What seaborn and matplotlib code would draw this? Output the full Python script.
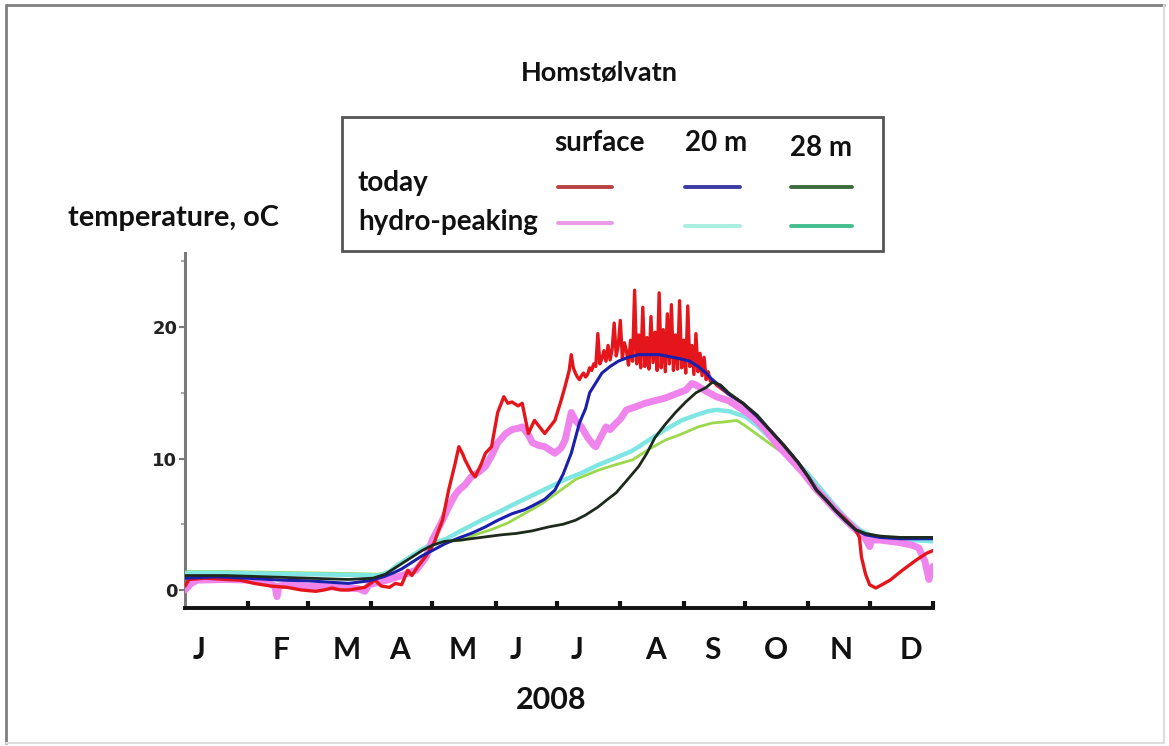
import numpy as np
import pandas as pd
import matplotlib
matplotlib.use("Agg")
import matplotlib.pyplot as plt
import seaborn as sns
from matplotlib.lines import Line2D
from matplotlib.patches import Rectangle

# ---------------- data (day of year 2008, temperature degC) ----------------
surf_today_day = [0, 2, 10, 20, 27, 34, 42, 50, 57, 64, 68, 72, 76, 80, 84, 88, 93, 96, 100, 103,
                  106, 109, 111, 114, 118, 122, 124, 126, 129, 132, 134, 136, 137, 140, 142, 145,
                  147, 150, 153, 156, 158, 160, 163, 165, 168, 171, 174, 176, 179, 181, 184, 186,
                  188, 189, 190, 191, 192, 193, 194, 195, 196, 197, 198, 199, 200, 201, 202, 203,
                  204, 205, 206, 207, 208, 209, 210, 211, 212, 213, 214, 215, 216, 217, 218, 219,
                  220, 221, 222, 223, 224, 225, 226, 227, 228, 229, 230, 231, 232, 233, 234, 235,
                  236, 237, 238, 239, 240, 241, 242, 243, 244, 245, 246, 247, 248, 249, 250, 251,
                  252, 253, 254, 255, 256, 257, 258, 260, 266, 273, 280, 286, 293, 300, 305, 309,
                  314, 318, 323, 328, 330, 331, 333, 335, 338, 341, 345, 351, 358, 363, 366]
surf_today_t = [0.3, 0.8, 0.9, 0.8, 0.75, 0.5, 0.3, 0.2, 0.0, -0.1, 0.0, 0.15, 0.0, 0.0, 0.1, 0.2, 0.75, 0.3, 0.2, 0.5,
                0.4, 1.5, 1.1, 1.8, 2.6, 3.6, 4.5, 5.3, 7.6, 9.5, 10.9, 10.3, 9.9, 9.0, 8.6, 9.6,
                10.4, 10.9, 13.5, 14.7, 14.2, 14.3, 14.0, 14.2, 11.9, 12.9, 12.3, 11.9, 12.5, 12.9, 14.4, 15.5,
                16.7, 17.9, 16.9, 16.5, 16.2, 16.0, 16.3, 16.5, 16.2, 16.4, 16.9, 16.7, 17.2, 17.0, 19.5, 17.2,
                17.6, 18.2, 17.4, 18.6, 17.5, 18.3, 20.3, 17.8, 18.6, 20.5, 17.6, 18.8, 18.2, 17.1, 19.0, 17.4,
                22.8, 17.2, 19.4, 16.9, 21.5, 17.0, 19.2, 16.8, 20.8, 17.3, 19.6, 16.7, 22.6, 16.9, 19.8, 16.6,
                21.0, 17.2, 21.7, 16.7, 19.4, 16.8, 22.0, 16.9, 19.0, 16.5, 21.6, 17.0, 18.6, 16.4, 19.5, 16.6,
                18.0, 16.3, 17.7, 16.0, 16.6, 15.9, 16.0, 15.6, 14.9, 14.2, 13.2, 12.2, 11.0, 9.7, 8.6, 7.6,
                6.8, 6.1, 5.4, 4.6, 4.0, 2.5, 1.2, 0.4, 0.15, 0.4, 0.75, 1.5, 2.3, 2.8, 3.0]

m20_today_day = [0, 15, 30, 47, 60, 70, 80, 90, 97, 102, 106, 112, 116, 121, 127, 133, 140, 147, 153,
                 160, 166, 170, 176, 181, 185, 189, 193, 196, 198, 202, 204, 208, 212, 217, 222, 232,
                 242, 247, 251, 255, 258, 262, 266, 273, 280, 286, 293, 300, 305, 309, 314, 318, 323,
                 328, 333, 340, 350, 366]
m20_today_t = [0.9, 1.0, 0.9, 0.75, 0.7, 0.6, 0.5, 0.7, 1.0, 1.3, 1.6, 2.2, 2.6, 3.0, 3.5, 3.9, 4.3, 4.8, 5.3,
               5.8, 6.1, 6.4, 6.9, 7.6, 8.8, 10.4, 12.7, 13.8, 15.0, 16.0, 16.5, 17.0, 17.4, 17.7, 17.9, 17.9,
               17.6, 17.4, 17.0, 16.5, 16.0, 15.5, 14.9, 14.2, 13.2, 12.2, 11.0, 9.7, 8.6, 7.6, 6.8, 6.1, 5.3,
               4.6, 4.2, 4.0, 3.9, 3.9]

m28_today_day = [0, 20, 40, 60, 80, 92, 98, 104, 110, 116, 121, 127, 135, 145, 155, 162, 170, 178, 185,
                 191, 196, 202, 206, 211, 216, 222, 226, 230, 235, 240, 245, 250, 255, 258, 262, 266,
                 273, 280, 286, 293, 300, 305, 309, 314, 318, 323, 328, 333, 340, 350, 366]
m28_today_t = [1.1, 1.1, 1.0, 0.9, 0.8, 0.9, 1.2, 1.8, 2.4, 3.0, 3.4, 3.7, 3.8, 4.0, 4.2, 4.3, 4.5, 4.8, 5.0,
               5.3, 5.7, 6.3, 6.8, 7.4, 8.3, 9.4, 10.4, 11.6, 12.6, 13.5, 14.3, 15.0, 15.4, 15.8, 15.6, 15.0,
               14.2, 13.3, 12.2, 11.0, 9.7, 8.6, 7.6, 6.8, 6.1, 5.3, 4.6, 4.3, 4.1, 4.0, 4.0]

surf_hydro_day = [0, 3, 6, 20, 31, 38, 41, 44, 45, 46, 50, 60, 70, 80, 85, 88, 90, 95, 100, 106, 113,
                  118, 121, 125, 129, 132, 134, 137, 140, 144, 147, 150, 153, 157, 160, 163, 165, 168,
                  170, 173, 176, 179, 181, 184, 186, 188, 189, 191, 194, 197, 200, 201, 203, 206, 208,
                  211, 213, 216, 220, 225, 230, 235, 240, 245, 248, 250, 254, 260, 266, 273, 279, 284,
                  290, 296, 302, 308, 314, 320, 326, 331, 333, 335, 336, 340, 345, 350, 356, 359, 362,
                  364, 365, 366]
surf_hydro_t = [0.0, 0.5, 0.75, 0.8, 0.75, 0.6, 0.5, 0.3, -0.5, 0.3, 0.4, 0.3, 0.25, 0.15, 0.1, -0.1, 0.4,
                0.6, 0.8, 1.1, 1.5, 2.5, 3.8, 5.0, 6.3, 7.2, 7.6, 8.0, 8.6, 9.0, 9.4, 10.2, 11.2, 11.9,
                12.2, 12.3, 12.4, 11.8, 11.2, 11.0, 10.9, 10.6, 10.4, 10.8, 11.4, 12.8, 13.5, 12.9, 12.4,
                11.6, 11.0, 10.9, 11.5, 12.4, 12.2, 12.7, 13.0, 13.7, 13.9, 14.2, 14.4, 14.6, 14.9, 15.2,
                15.7, 15.6, 15.2, 14.7, 14.4, 13.7, 13.0, 12.2, 11.0, 10.0, 9.0, 7.8, 6.8, 5.8, 4.9, 4.2,
                3.9, 3.3, 3.8, 3.8, 3.7, 3.6, 3.4, 3.2, 2.2, 0.8, 1.5, 1.8]

m20_hydro_day = [0, 20, 40, 60, 80, 95, 100, 104, 110, 116, 122, 128, 135, 145, 153, 162, 170, 178, 186,
                 194, 202, 210, 219, 227, 235, 243, 250, 256, 260, 266, 274, 280, 286, 293, 300, 305,
                 311, 318, 324, 330, 336, 345, 355, 366]
m20_hydro_t = [1.3, 1.3, 1.25, 1.2, 1.15, 1.1, 1.4, 1.9, 2.5, 3.1, 3.6, 3.9, 4.5, 5.3, 5.9, 6.6, 7.2, 7.8,
               8.4, 8.9, 9.5, 10.0, 10.6, 11.4, 12.2, 12.9, 13.3, 13.6, 13.7, 13.6, 13.2, 12.5, 11.6, 10.6,
               9.6, 8.8, 7.7, 6.4, 5.4, 4.6, 4.1, 3.9, 3.8, 3.7]

m28_hydro_day = [0, 20, 40, 60, 80, 95, 100, 104, 108, 113, 118, 124, 130, 136, 142, 150, 158, 166, 175,
                 183, 191, 202, 210, 219, 227, 235, 242, 251, 258, 265, 270, 274, 282, 290, 296, 305,
                 312, 318, 324, 330, 336, 345, 355, 366]
m28_hydro_t = [1.4, 1.4, 1.35, 1.3, 1.25, 1.2, 1.4, 1.9, 2.3, 2.8, 3.3, 3.7, 3.7, 3.8, 4.2, 4.6, 5.1, 5.8,
               6.6, 7.5, 8.4, 9.1, 9.5, 9.9, 10.7, 11.4, 11.8, 12.4, 12.7, 12.8, 12.9, 12.5, 11.6, 10.7,
               10.1, 8.9, 7.5, 6.3, 5.3, 4.5, 4.0, 3.9, 3.8, 3.8]

month_letters = ["J", "F", "M", "A", "M", "J", "J", "A", "S", "O", "N", "D"]
month_letter_day = [7, 47, 79, 105, 136, 162, 192, 230, 258, 289, 321, 355]
month_end_day = [31, 60, 91, 121, 152, 182, 213, 244, 274, 305, 335, 366]
y_major = [0, 10, 20]
y_minor = [5, 15, 25]

legend_cols = ["surface", "20 m", "28 m"]
legend_rows = ["today", "hydro-peaking"]

# ---------------- figure ----------------
W, H = 1169, 746
sns.set_style("white")
plt.rcParams["font.family"] = ["DejaVu Sans"]

fig = plt.figure(figsize=(W / 100, H / 100), dpi=100)
fig.patch.set_facecolor("white")


def fx(px):
    return px / W


def fy(py):
    return 1 - py / H


ax = fig.add_axes([fx(185), fy(608.4), 748 / W, 355 / H])
ax.set_facecolor("white")

series = [
    ("28 m hydro", m28_hydro_day, m28_hydro_t, "#9bd84c", 2.0, 2),
    ("20 m hydro", m20_hydro_day, m20_hydro_t, "#7fe6e3", 3.2, 3),
    ("surface hydro", surf_hydro_day, surf_hydro_t, "#ee84ec", 5.0, 4),
    ("surface today", surf_today_day, surf_today_t, "#e4161b", 2.4, 5),
    ("20 m today", m20_today_day, m20_today_t, "#1b1fae", 2.2, 6),
    ("28 m today", m28_today_day, m28_today_t, "#1d2b1d", 2.0, 7),
]
for name, d, t, c, lw, z in series:
    df = pd.DataFrame({"day": d, "temp": t})
    sns.lineplot(data=df, x="day", y="temp", ax=ax, color=c, linewidth=lw,
                 estimator=None, sort=False, zorder=z, legend=False)

ax.set_xlim(0, 366)
ax.set_ylim(-1.4, 25.6)
ax.set_xlabel("")
ax.set_ylabel("")

for s in ["top", "right"]:
    ax.spines[s].set_visible(False)
ax.spines["left"].set_color("#7a7a7a")
ax.spines["left"].set_linewidth(2.2)
ax.spines["bottom"].set_color("#111111")
ax.spines["bottom"].set_linewidth(2.8)

# x ticks: month ends (major, inward), letters (minor, no tick)
ax.set_xticks(month_end_day)
ax.set_xticklabels([""] * len(month_end_day))
ax.tick_params(axis="x", which="major", direction="in", length=5, width=3, color="#111111", bottom=True)
ax.set_xticks(month_letter_day, labels=month_letters, minor=True)
ax.tick_params(axis="x", which="minor", length=0, pad=20, labelsize=21.5, bottom=True)
for lbl in ax.get_xticklabels(minor=True):
    lbl.set_fontfamily("Lato")
    lbl.set_fontweight("bold")
    lbl.set_color("#111111")

ax.set_yticks(y_major)
ax.set_yticklabels([str(v) for v in y_major])
ax.set_yticks(y_minor, minor=True)
ax.tick_params(axis="y", which="major", direction="out", length=4, width=1.5, color="#7a7a7a",
               labelsize=13, pad=1.5, left=True)
ax.tick_params(axis="y", which="minor", direction="out", length=3, width=1.2, color="#9a9a9a", left=True)
for lbl in ax.get_yticklabels():
    lbl.set_fontweight("bold")
    lbl.set_color("#222222")

# texts
fig.text(fx(599), fy(73), "Homstølvatn", ha="center", va="center", fontsize=19.5,
         fontweight="bold", family="Lato", color="#111111")
fig.text(fx(68), fy(218), "temperature, oC", ha="left", va="center", fontsize=20.8,
         fontweight="bold", family="Lato", color="#111111")
fig.text(fx(551), fy(700), "2008", ha="center", va="center", fontsize=22,
         fontweight="bold", family="Lato", color="#111111")

# legend box (table style)
fig.add_artist(Rectangle((fx(342), fy(251)), (883 - 342) / W, (251 - 117) / H,
                         transform=fig.transFigure, fill=False, edgecolor="#555555", linewidth=2))
col_x = [600, 716, 821]
col_y = [143, 143, 148]
for lab, cx, cy in zip(legend_cols, col_x, col_y):
    fig.text(fx(cx), fy(cy), lab, ha="center", va="center", fontsize=20, fontweight="bold",
             family="Lato", color="#111111")
row_y = [183, 222]
for lab, ry in zip(legend_rows, row_y):
    fig.text(fx(358), fy(ry), lab, ha="left", va="center", fontsize=20, fontweight="bold",
             family="Lato", color="#111111")

seg_x = [(558, 612), (685, 740), (791, 852)]
leg_colors = [["#b84343", "#3b3ba3", "#3d6b3d"], ["#e79be6", "#a9eede", "#43bf8f"]]
seg_y = [[187, 187, 187], [223, 226, 226]]
for r in range(2):
    for c in range(3):
        x0, x1 = seg_x[c]
        yy = seg_y[r][c]
        fig.add_artist(Line2D([fx(x0), fx(x1)], [fy(yy), fy(yy)], transform=fig.transFigure,
                              color=leg_colors[r][c], linewidth=2.8))

# outer frame
fig.add_artist(Line2D([fx(6), fx(1164)], [fy(5), fy(5)], transform=fig.transFigure,
                      color="#808080", linewidth=2))
fig.add_artist(Line2D([fx(6), fx(6)], [fy(5), fy(743)], transform=fig.transFigure,
                      color="#808080", linewidth=2))
fig.add_artist(Line2D([fx(1164), fx(1164)], [fy(5), fy(743)], transform=fig.transFigure,
                      color="#dddddd", linewidth=1.5))
fig.add_artist(Line2D([fx(6), fx(1164)], [fy(743), fy(743)], transform=fig.transFigure,
                      color="#dddddd", linewidth=1.5))

fig.savefig("out.png", dpi=100, facecolor="white")
